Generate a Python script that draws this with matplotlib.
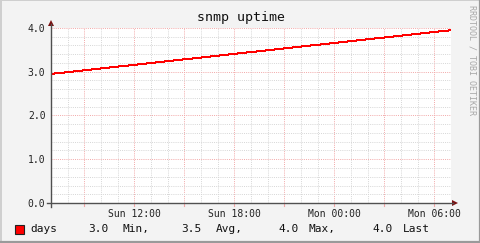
import matplotlib
matplotlib.use("Agg")
import matplotlib.pyplot as plt
from matplotlib.lines import Line2D
from matplotlib.patches import Rectangle, Polygon

# data (hours since Sun 07:00, uptime in days)
hours = [0, 6, 12, 18, 24]
days = [2.95, 3.20, 3.45, 3.70, 3.95]
xtick_hours = [5, 11, 17, 23]
xtick_labels = ["Sun 12:00", "Sun 18:00", "Mon 00:00", "Mon 06:00"]
ytick_vals = [0.0, 1.0, 2.0, 3.0, 4.0]
legend_name = "days"
legend_stats = ["3.0", "Min,", "3.5", "Avg,", "4.0", "Max,", "4.0", "Last"]

W, H = 481, 243
fig = plt.figure(figsize=(W / 100, H / 100), dpi=100)
fig.patch.set_facecolor("#F3F3F3")

def fx(px):
    return px / W

def fy(py):
    return 1 - py / H

# border shading
fig.add_artist(Line2D([fx(0.5), fx(0.5)], [0, 1], color="#CFCFCF", lw=1.4))
fig.add_artist(Line2D([0, 1], [fy(0.5), fy(0.5)], color="#CFCFCF", lw=1.4))
fig.add_artist(Line2D([fx(W - 1), fx(W - 1)], [0, 1], color="#9A9A9A", lw=1.6))
fig.add_artist(Line2D([0, 1], [fy(H - 1), fy(H - 1)], color="#9A9A9A", lw=1.6))

L, R, T, B = 51, 451, 28, 203
ax = fig.add_axes([fx(L), fy(B), fx(R - L), (B - T) / H])
ax.set_facecolor("white")
ax.set_xlim(0, 24)
ax.set_ylim(0, 4)

mono = "DejaVu Sans Mono"
major_c = "#F2A8A8"
minor_c = "#D6D6D6"

# grid
for h in range(0, 25):
    c = major_c if h % 3 == 2 else minor_c
    ax.axvline(h, color=c, lw=0.7, ls=(0, (1, 1.2)), zorder=1)
for k in range(0, 21):
    c = major_c if k % 5 == 0 else minor_c
    ax.axhline(k * 0.2, color=c, lw=0.7, ls=(0, (1, 1.2)), zorder=1)

ax.plot(hours, days, color="#FF0000", lw=0.72, zorder=3, antialiased=False)

for s in ax.spines.values():
    s.set_visible(False)
ax.set_xticks(xtick_hours)
ax.set_xticklabels(xtick_labels, fontfamily=mono, fontsize=7, color="#222222")
ax.set_yticks(ytick_vals)
ax.set_yticklabels([f"{v:.1f}" for v in ytick_vals], fontfamily=mono, fontsize=7, color="#222222")
ax.tick_params(axis="both", length=0, pad=4)
ax.tick_params(axis="x", pad=4.5)

# major grid marks below the x axis
for h in range(2, 25, 3):
    px = L + h * (R - L) / 24
    fig.add_artist(Line2D([fx(px), fx(px)], [fy(B), fy(B + 3)], color=major_c, lw=0.8))

# axes lines with arrows
axc = "#505050"
fig.add_artist(Line2D([fx(L), fx(L)], [fy(B + 4), fy(24)], color=axc, lw=1))
fig.add_artist(Line2D([fx(L - 4), fx(453)], [fy(B), fy(B)], color=axc, lw=1))
arr = "#7A1010"
fig.add_artist(Polygon([[fx(L - 3), fy(26)], [fx(L + 3), fy(26)], [fx(L), fy(20)]],
                       closed=True, color=arr, lw=0))
fig.add_artist(Polygon([[fx(452), fy(B - 3)], [fx(452), fy(B + 3)], [fx(458), fy(B)]],
                       closed=True, color=arr, lw=0))

# title
fig.text(fx(241), fy(18), "snmp uptime", fontfamily=mono, fontsize=9.5,
         ha="center", va="center", color="#111111")

# watermark
fig.text(fx(472), fy(60), "RRDTOOL / TOBI OETIKER", fontfamily=mono, fontsize=6,
         rotation=270, ha="center", va="center", color="#A8A8A8")

# legend
fig.add_artist(Rectangle((fx(15), fy(233.5)), fx(9), 9 / H, facecolor="#FF0000",
                         edgecolor="#222222", lw=0.8))
ly = fy(229)
fig.text(fx(30), ly, legend_name, fontfamily=mono, fontsize=8, ha="left", va="center", color="#111111")
xs = [88, 123, 181, 216, 278, 309, 372, 403]
for x, s in zip(xs, legend_stats):
    fig.text(fx(x), ly, s, fontfamily=mono, fontsize=8, ha="left", va="center", color="#111111")

fig.savefig("out.png", dpi=100, facecolor=fig.get_facecolor())
